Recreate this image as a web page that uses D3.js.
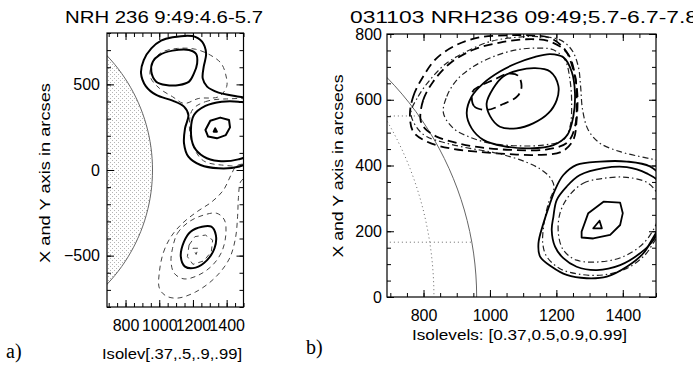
<!DOCTYPE html>
<html>
<head>
<meta charset="utf-8">
<script src="https://cdn.jsdelivr.net/npm/d3@7"></script>
<style>body{margin:0;background:#fff}</style>
</head>
<body>
<script>
// solar limb and heliographic grid (arcsec / degrees)
var limbRadius = 960;
var gridLats = [10, 35];
var gridLons = [60];

// ---- panel a : NRH 236 MHz, 9:49:4.6 (solid) and 5.7 (dashed)
var aTitle = "NRH 236 9:49:4.6-5.7";
var aXTitle = "Isolev[.37,.5,.9,.99]";
var aYTitle = "X and Y axis in arcses";
var aXTicks = [800, 1000, 1200, 1400];
var aYTicks = [-500, 0, 500];

var a46Outer = [[1079,775],[1196,782],[1254,749],[1278,681],[1264,603],[1258,535],[1284,487],[1352,452],[1449,432],[1566,399],[1576,234],[1546,58],[1469,19],[1352,10],[1245,29],[1173,78],[1147,156],[1153,243],[1173,321],[1147,370],[1079,405],[982,438],[920,490],[892,564],[908,642],[953,710],[1011,755]];
var a46Upper = [[953,574],[962,633],[1001,671],[1079,697],[1177,701],[1219,677],[1225,623],[1206,564],[1177,516],[1118,496],[1040,496],[982,516]];
var a46Mid = [[1206,321],[1274,374],[1371,399],[1469,399],[1546,380],[1566,234],[1527,88],[1469,62],[1352,52],[1264,78],[1206,136],[1188,233]];
var a46Core = [[1274,234],[1303,288],[1362,306],[1414,292],[1420,249],[1395,204],[1342,185],[1290,195]];
var a46Peak = [[1323,224],[1342,224],[1332,243]];
var a46Low = [[1147,-418],[1186,-360],[1254,-331],[1309,-331],[1336,-380],[1328,-457],[1284,-526],[1216,-570],[1153,-564],[1128,-506]];

var a57Upper = [[947,545],[959,623],[1011,685],[1108,710],[1216,705],[1303,671],[1367,623],[1395,555],[1400,487],[1352,428],[1235,418],[1147,389],[1079,428],[1001,477]];
var a57Mid = [[1196,350],[1274,399],[1400,415],[1540,400],[1570,234],[1527,39],[1371,29],[1264,53],[1212,117],[1180,233]];
var a57LowPeak = [[1200,-457],[1231,-457],[1219,-493]];
var a57LowIn = [[1177,-438],[1212,-389],[1274,-380],[1317,-409],[1309,-477],[1264,-531],[1200,-551],[1167,-506]];
var a57LowMid = [[1079,-457],[1108,-370],[1177,-302],[1264,-263],[1342,-253],[1387,-292],[1395,-379],[1371,-477],[1317,-555],[1235,-613],[1147,-636],[1089,-603],[1070,-535]];
var a57LowOut = [[1001,-594],[1025,-481],[1070,-389],[1138,-311],[1225,-243],[1313,-185],[1381,-117],[1426,-29],[1460,25],[1530,30],[1510,-40],[1482,-70],[1470,-160],[1465,-270],[1452,-400],[1415,-520],[1330,-630],[1216,-712],[1108,-748],[1040,-735],[1001,-691]];

var aContours = [
  {time: "5.7", pts: a57Upper}, {time: "5.7", pts: a57Mid},
  {time: "5.7", pts: a57LowOut}, {time: "5.7", pts: a57LowMid},
  {time: "5.7", pts: a57LowIn}, {time: "5.7", pts: a57LowPeak},
  {time: "4.6", pts: a46Outer}, {time: "4.6", pts: a46Upper},
  {time: "4.6", pts: a46Mid}, {time: "4.6", pts: a46Core},
  {time: "4.6", pts: a46Peak}, {time: "4.6", pts: a46Low}
];

// ---- panel b : 031103 NRH 236 MHz, 9:49 5.7 (dashed), 6.7 (dot-dash), 7.8 (solid)
var bTitle = "031103 NRH236 09:49;5.7-6.7-7.8";
var bXTitle = "Isolevels: [0.37,0.5,0.9,0.99]";
var bYTitle = "X and Y axis in arcsecs";
var bXTicks = [800, 1000, 1200, 1400];
var bYTicks = [0, 200, 400, 600, 800];

var b57Out = [[759,554],[769,610],[799,671],[839,726],[900,767],[970,790],[1050,796],[1120,796],[1181,788],[1226,752],[1251,691],[1263,620],[1261,539],[1251,478],[1216,442],[1140,432],[1050,435],[960,442],[880,452],[809,473],[769,503]];
var b57Mid = [[791,539],[799,599],[829,655],[880,711],[950,752],[1030,774],[1110,784],[1181,777],[1233,742],[1256,676],[1261,599],[1256,518],[1233,470],[1171,449],[1080,447],[990,453],[910,466],[839,488],[804,513]];
var b57Core = [[948,625],[952,581],[990,569],[1040,587],[1082,610],[1095,638],[1085,673],[1055,679],[1010,660],[970,642]];

var b67Out = [[762,560],[784,610],[819,660],[869,711],[930,747],[1000,777],[1080,790],[1150,792],[1211,782],[1246,752],[1266,701],[1273,640],[1279,569],[1296,508],[1331,468],[1392,442],[1452,427],[1497,417],[1540,400],[1550,300],[1530,200],[1502,178],[1467,128],[1412,87],[1341,67],[1271,69],[1211,86],[1171,123],[1159,163],[1163,224],[1176,285],[1193,335],[1180,365],[1150,390],[1110,410],[1060,427],[1000,442],[940,452],[869,468],[809,488],[780,515]];
var b67Up = [[860,559],[870,610],[900,660],[950,701],[1010,731],[1080,752],[1140,757],[1191,752],[1226,721],[1241,660],[1246,589],[1241,518],[1221,478],[1161,462],[1080,460],[1000,468],[940,486],[890,513]];
var b67Low = [[1236,305],[1281,346],[1342,361],[1412,364],[1477,346],[1507,305],[1507,244],[1497,214],[1462,163],[1402,123],[1332,107],[1261,112],[1221,143],[1206,194],[1211,255]];

var b78Up1 = [[930,559],[945,610],[980,650],[1030,686],[1080,711],[1131,729],[1181,739],[1221,729],[1246,686],[1256,620],[1251,549],[1233,493],[1191,462],[1121,452],[1040,459],[980,478],[945,513]];
var b78Up2 = [[990,589],[1010,635],[1040,671],[1085,689],[1136,696],[1181,686],[1206,642],[1201,599],[1176,559],[1130,528],[1080,513],[1030,518],[1000,551]];
var b78Low1 = [[1196,326],[1221,371],[1261,402],[1332,412],[1412,412],[1482,397],[1522,356],[1530,280],[1510,215],[1487,173],[1462,133],[1412,92],[1352,62],[1291,57],[1231,67],[1186,92],[1151,123],[1146,163],[1161,224],[1181,285]];
var b78Low2 = [[1201,295],[1231,336],[1271,371],[1342,392],[1412,395],[1472,376],[1512,346],[1520,255],[1492,173],[1452,133],[1392,97],[1322,82],[1261,92],[1221,118],[1196,153],[1186,204],[1191,244]];
var b78Core = [[1276,199],[1296,255],[1342,290],[1392,287],[1400,255],[1392,219],[1362,189],[1311,178],[1276,181]];
var b78Peak = [[1311,209],[1337,209],[1330,232]];

var bContours = [
  {time: "5.7", pts: b57Out}, {time: "5.7", pts: b57Mid}, {time: "5.7", pts: b57Core},
  {time: "6.7", pts: b67Out}, {time: "6.7", pts: b67Up}, {time: "6.7", pts: b67Low},
  {time: "7.8", pts: b78Up1}, {time: "7.8", pts: b78Up2},
  {time: "7.8", pts: b78Low1}, {time: "7.8", pts: b78Low2},
  {time: "7.8", pts: b78Core}, {time: "7.8", pts: b78Peak}
];

var styleA = {
  "4.6": {width: 2, dash: null, color: "#000"},
  "5.7": {width: 1, dash: "5,4", color: "#444"}
};
var styleB = {
  "5.7": {width: 1.8, dash: "9,5", color: "#000"},
  "6.7": {width: 1.2, dash: "6,3,1.5,3", color: "#222"},
  "7.8": {width: 1.8, dash: null, color: "#000"}
};

var sans = "'Liberation Sans', Arial, sans-serif";

var svg = d3.select("body").append("svg")
  .attr("width", 693).attr("height", 365);

var defs = svg.append("defs");
var pat = defs.append("pattern")
  .attr("id", "stipple").attr("patternUnits", "userSpaceOnUse")
  .attr("width", 4).attr("height", 4);
pat.append("rect").attr("x", 0).attr("y", 0).attr("width", 1).attr("height", 1).attr("fill", "#b4b4b4");
pat.append("rect").attr("x", 2).attr("y", 2).attr("width", 1).attr("height", 1).attr("fill", "#b4b4b4");

function panel(o) {
  var x = d3.scaleLinear().domain([690, 1500]).range([o.left, o.right]);
  var y = d3.scaleLinear().domain(o.yDomain).range([o.bottom, o.top]);
  var g = svg.append("g");

  defs.append("clipPath").attr("id", o.id + "clip")
    .append("rect").attr("x", o.left).attr("y", o.top)
    .attr("width", o.right - o.left).attr("height", o.bottom - o.top);
  var plot = g.append("g").attr("clip-path", "url(#" + o.id + "clip)");

  // solar limb
  var angles = d3.range(0, 361, 2);
  var limb = d3.line()
    .x(function(a) { return x(limbRadius * Math.cos(a * Math.PI / 180)); })
    .y(function(a) { return y(limbRadius * Math.sin(a * Math.PI / 180)); });
  plot.append("path").attr("d", limb(angles) + "Z")
    .attr("fill", o.stipple ? "url(#stipple)" : "none")
    .attr("stroke", "#666").attr("stroke-width", 1);

  if (o.grid) {
    var rad = Math.PI / 180;
    var geo = d3.line()
      .x(function(d) { return x(limbRadius * Math.cos(d[0] * rad) * Math.sin(d[1] * rad)); })
      .y(function(d) { return y(limbRadius * Math.sin(d[0] * rad)); });
    gridLats.forEach(function(lat) {
      plot.append("path")
        .attr("d", geo(d3.range(0, 91, 2).map(function(l) { return [lat, l]; })))
        .attr("fill", "none").attr("stroke", "#666").attr("stroke-width", 1)
        .attr("stroke-dasharray", "1,3");
    });
    gridLons.forEach(function(lon) {
      plot.append("path")
        .attr("d", geo(d3.range(-90, 91, 2).map(function(l) { return [l, lon]; })))
        .attr("fill", "none").attr("stroke", "#666").attr("stroke-width", 1)
        .attr("stroke-dasharray", "1,3");
    });
  }

  // contours
  o.contours.forEach(function(c) {
    var s = o.style[c.time];
    var curve = c.pts.length <= 9 ? d3.curveLinearClosed : d3.curveCatmullRomClosed.alpha(0.5);
    var line = d3.line().x(function(d) { return x(d[0]); }).y(function(d) { return y(d[1]); }).curve(curve);
    plot.append("path").attr("d", line(c.pts))
      .attr("fill", "none").attr("stroke", s.color)
      .attr("stroke-width", s.width)
      .attr("stroke-dasharray", s.dash)
      .attr("stroke-linejoin", "round");
  });

  // frame
  g.append("rect").attr("x", o.left).attr("y", o.top)
    .attr("width", o.right - o.left).attr("height", o.bottom - o.top)
    .attr("fill", "none").attr("stroke", "#000").attr("stroke-width", 1.2);

  // ticks, inward on all sides
  var xMinor = d3.range(700, 1501, 50);
  var yMinor = d3.range(o.yDomain[0], o.yDomain[1] + 1, o.yMinorStep);
  function ticks(axis, tr) {
    var a = g.append("g").attr("transform", tr).call(axis);
    a.select(".domain").remove();
    a.selectAll("line").attr("stroke", "#000");
    a.attr("font-family", sans).attr("font-size", 16);
    a.selectAll("text").attr("fill", "#000");
    return a;
  }
  ticks(d3.axisBottom(x).tickValues(xMinor).tickSize(-4).tickFormat(""), "translate(0," + o.bottom + ")");
  ticks(d3.axisTop(x).tickValues(xMinor).tickSize(-4).tickFormat(""), "translate(0," + o.top + ")");
  ticks(d3.axisLeft(y).tickValues(yMinor).tickSize(-4).tickFormat(""), "translate(" + o.left + ",0)");
  ticks(d3.axisRight(y).tickValues(yMinor).tickSize(-4).tickFormat(""), "translate(" + o.right + ",0)");
  ticks(d3.axisBottom(x).tickValues(o.xTicks).tickSize(-7).tickPadding(13).tickFormat(d3.format("d")),
        "translate(0," + o.bottom + ")");
  ticks(d3.axisTop(x).tickValues(o.xTicks).tickSize(-7).tickFormat(""), "translate(0," + o.top + ")");
  ticks(d3.axisLeft(y).tickValues(o.yTicks).tickSize(-7).tickPadding(o.yPad)
        .tickFormat(function(d) { return d < 0 ? "\u2212" + (-d) : d; }), "translate(" + o.left + ",0)");
  ticks(d3.axisRight(y).tickValues(o.yTicks).tickSize(-7).tickFormat(""), "translate(" + o.right + ",0)");

  // titles
  svg.append("text").attr("x", o.titleX).attr("y", o.titleY)
    .attr("font-family", sans).attr("font-size", 16)
    .attr("textLength", o.titleLen).attr("lengthAdjust", "spacingAndGlyphs")
    .text(o.title);
  svg.append("text").attr("x", o.xTitleX).attr("y", o.xTitleY)
    .attr("font-family", sans).attr("font-size", 15)
    .attr("textLength", o.xTitleLen).attr("lengthAdjust", "spacingAndGlyphs")
    .text(o.xTitle);
  svg.append("text")
    .attr("transform", "translate(" + o.yTitleX + "," + o.yTitleY + ") rotate(-90)")
    .attr("text-anchor", "middle")
    .attr("font-family", sans).attr("font-size", 15)
    .attr("textLength", o.yTitleLen).attr("lengthAdjust", "spacingAndGlyphs")
    .text(o.yTitle);
  svg.append("text").attr("x", o.tagX).attr("y", o.tagY)
    .attr("font-family", "'Liberation Serif', 'Times New Roman', serif")
    .attr("font-size", 20).text(o.tag);
}

panel({
  id: "a", left: 107, right: 243.5, top: 33, bottom: 307,
  yDomain: [-800, 800], yMinorStep: 100,
  xTicks: aXTicks, yTicks: aYTicks, yPad: 7,
  contours: aContours, style: styleA, stipple: true, grid: false,
  title: aTitle, titleX: 65, titleY: 23, titleLen: 198,
  xTitle: aXTitle, xTitleX: 102, xTitleY: 359, xTitleLen: 140,
  yTitle: aYTitle, yTitleX: 50, yTitleY: 173, yTitleLen: 180,
  tag: "a)", tagX: 6, tagY: 358
});

panel({
  id: "b", left: 387, right: 656, top: 34, bottom: 297,
  yDomain: [0, 800], yMinorStep: 50,
  xTicks: bXTicks, yTicks: bYTicks, yPad: 5,
  contours: bContours, style: styleB, stipple: false, grid: true,
  title: bTitle, titleX: 350, titleY: 23, titleLen: 348,
  xTitle: bXTitle, xTitleX: 412, xTitleY: 340, xTitleLen: 215,
  yTitle: bYTitle, yTitleX: 343, yTitleY: 166, yTitleLen: 183,
  tag: "b)", tagX: 306, tagY: 354
});
</script>
</body>
</html>
